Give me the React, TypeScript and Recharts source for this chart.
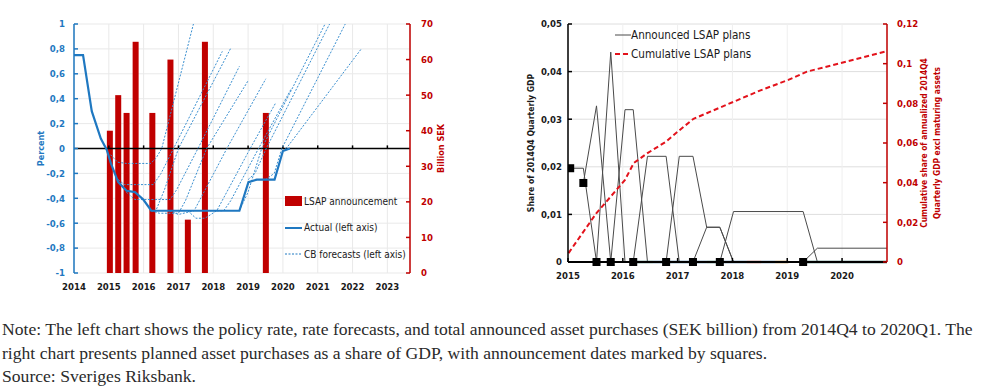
import React from 'react';
import { ComposedChart, Line, Bar, XAxis, YAxis, CartesianGrid, ReferenceLine, Legend } from 'recharts';

const FONT = '"Liberation Sans Narrow", "DejaVu Sans Condensed", Lato, sans-serif';
const BLUE = '#1f78c1';
const RED = '#c00000';
const CUM_RED = '#e3121b';
const PLAN_GRAY = '#4a4a4a';

// ---------- Left chart data ----------
const leftYearTicks = [2014, 2015, 2016, 2017, 2018, 2019, 2020, 2021, 2022, 2023];
const percentTicks = [-1, -0.8, -0.6, -0.4, -0.2, 0, 0.2, 0.4, 0.6, 0.8, 1];
const sekTicks = [0, 10, 20, 30, 40, 50, 60, 70];

const lsapDates = [2015.03, 2015.27, 2015.51, 2015.77, 2016.25, 2016.77, 2017.27, 2017.76, 2019.51];
const lsapBillionSek = [40, 50, 45, 65, 45, 60, 15, 65, 45];

const actualDates = [2014.0, 2014.26, 2014.51, 2014.77, 2014.94, 2015.06, 2015.27, 2015.51, 2015.75, 2015.99, 2016.22, 2018.75, 2019.01, 2019.25, 2019.76, 2020.0, 2020.2];
const actualRate = [0.75, 0.75, 0.3, 0.08, -0.01, -0.12, -0.27, -0.34, -0.35, -0.41, -0.5, -0.5, -0.27, -0.25, -0.25, -0.02, 0];

const cbForecastFeb15 = [[2015.05, -0.05], [2015.25, -0.11], [2015.5, -0.12], [2016.2, -0.12], [2016.35, -0.08], [2016.52, 0], [2017.43, 1]];
const cbForecastApr15 = [[2015.27, -0.25], [2015.45, -0.29], [2016.28, -0.29], [2016.5, -0.2], [2016.86, 0], [2018.26, 0.78]];
const cbForecastJul15 = [[2015.5, -0.35], [2015.75, -0.41], [2016.76, -0.41], [2016.95, -0.33], [2017.56, 0], [2018.75, 0.66]];
const cbForecastFeb16 = [[2016.2, -0.5], [2016.35, -0.5], [2016.6, -0.33], [2017.0, 0], [2018.51, 0.81]];
const cbForecastApr16 = [[2016.22, -0.5], [2016.45, -0.52], [2017.0, -0.52], [2017.2, -0.42], [2017.81, 0], [2018.99, 0.54]];
const cbForecastDec16 = [[2016.75, -0.5], [2017.0, -0.53], [2017.45, -0.5], [2018.39, 0], [2019.51, 0.56]];
const cbForecastApr17 = [[2017.27, -0.5], [2017.5, -0.56], [2017.76, -0.56], [2018.1, -0.5], [2019.06, 0], [2019.78, 0.36]];
const cbForecastDec17 = [[2017.9, -0.5], [2018.3, -0.5], [2018.5, -0.42], [2019.3, 0], [2020.24, 0.48]];
const cbForecastOct18 = [[2018.75, -0.5], [2019.0, -0.35], [2019.39, 0], [2021.21, 1]];
const cbForecastFeb19 = [[2019.0, -0.25], [2019.2, -0.2], [2019.52, 0], [2021.34, 1]];
const cbForecastJul19 = [[2019.5, -0.25], [2019.75, -0.2], [2019.97, 0], [2021.79, 1]];
const cbForecastDec19 = [[2020.0, -0.02], [2020.15, 0.02], [2022.25, 0.8]];

const cbForecasts = [
  cbForecastFeb15, cbForecastApr15, cbForecastJul15, cbForecastFeb16, cbForecastApr16, cbForecastDec16,
  cbForecastApr17, cbForecastDec17, cbForecastOct18, cbForecastFeb19, cbForecastJul19, cbForecastDec19,
];

// ---------- Right chart data ----------
const rightYearTicks = [2015, 2016, 2017, 2018, 2019, 2020];
const shareTicks = [0, 0.01, 0.02, 0.03, 0.04, 0.05];
const cumTicks = [0, 0.02, 0.04, 0.06, 0.08, 0.1, 0.12];

const planFeb15 = [[2015.04, 0.0197], [2015.28, 0.0197], [2015.52, 0]];
const planApr15 = [[2015.28, 0.0166], [2015.52, 0.0328], [2015.78, 0]];
const planJul15 = [[2015.52, 0], [2015.78, 0.0441], [2016.04, 0]];
const planOct15 = [[2015.78, 0], [2016.04, 0.032], [2016.19, 0.032], [2016.45, 0]];
const planApr16 = [[2016.19, 0], [2016.45, 0.0222], [2016.79, 0.0222], [2017.03, 0]];
const planDec16 = [[2016.79, 0], [2017.03, 0.0222], [2017.28, 0.0222], [2017.53, 0.0073], [2017.77, 0.0073], [2018.02, 0]];
const planApr17 = [[2017.28, 0], [2017.53, 0.0073], [2017.77, 0.0073], [2018.02, 0]];
const planDec17 = [[2017.77, 0], [2018.02, 0.0106], [2019.29, 0.0106], [2019.55, 0]];
const planApr19 = [[2019.29, 0], [2019.55, 0.0029], [2020.82, 0.0029]];
const plans = [planFeb15, planApr15, planJul15, planOct15, planApr16, planDec16, planApr17, planDec17, planApr19];

const cumDates = [2015.01, 2015.52, 2015.78, 2016.04, 2016.2, 2016.45, 2016.79, 2017.04, 2017.29, 2017.53, 2018.03, 2018.5, 2019.02, 2019.36, 2019.96, 2020.78];
const cumShare = [0.0045, 0.0247, 0.033, 0.0414, 0.0499, 0.0549, 0.0607, 0.0666, 0.0722, 0.075, 0.0809, 0.0864, 0.0918, 0.096, 0.1002, 0.106];

const announceDates = [2015.04, 2015.28, 2015.52, 2015.78, 2016.19, 2016.79, 2017.28, 2017.77, 2019.29];
const announceShare = [0.0197, 0.0166, 0, 0, 0, 0, 0, 0, 0];

const zeroSegStart = [2016.19, 2016.55, 2017.53, 2017.77, 2018.26, 2018.53, 2018.78, 2019.29];
const zeroSegEnd = [2016.55, 2017.53, 2017.77, 2018.26, 2018.53, 2018.78, 2019.02, 2020.82];
const zeroSegColor = ['#235e54', '#2e5f86', '#235e54', '#2e5f86', '#7a2a2a', '#3d6a92', '#9a6a1c', '#235e54'];

// ---------- helpers ----------
const toPts = (arr: number[][]) => arr.map(([x, v]) => ({ x, v }));
const zip = (xs: number[], vs: number[]) => xs.map((x, i) => ({ x, v: vs[i] }));
const comma = (v: number) => String(v).replace('.', ',');

const barData = lsapDates.map((x, i) => ({ x, sek: lsapBillionSek[i] }));
const actualData = zip(actualDates, actualRate);
const cumData = zip(cumDates, cumShare);
const announceData = zip(announceDates, announceShare);

const tickStyle = (fill: string) => ({ fill, fontSize: 9.5, fontWeight: 700, fontFamily: FONT });

const SquareDot = (props: any) => {
  const { cx, cy } = props;
  if (cx == null || cy == null) return null;
  return <rect x={cx - 4} y={cy - 4} width={8} height={8} fill="#000" />;
};

const BAR_W = 6;
const LsapBar = (props: any) => {
  const { x, y, width, height } = props;
  if (height == null || height <= 0) return null;
  const cx = x + width / 2;
  return <rect x={cx - BAR_W / 2} y={y} width={BAR_W} height={height} fill={RED} />;
};

const RotLabel = ({ text, fill, dxFrom, viewBox, size = 9 }: any) => {
  const cx = viewBox.x + dxFrom;
  const cy = viewBox.y + viewBox.height / 2;
  return (
    <text x={cx} y={cy} fill={fill} fontSize={size} fontWeight={700} fontFamily={FONT}
      textAnchor="middle" dominantBaseline="central" transform={`rotate(-90 ${cx} ${cy})`}>
      {text}
    </text>
  );
};

const leftLegendItems = [
  { label: 'LSAP announcement', kind: 'bar' },
  { label: 'Actual (left axis)', kind: 'solid' },
  { label: 'CB forecasts (left axis)', kind: 'dotted' },
];

const LeftLegend = () => (
  <div style={{ fontFamily: FONT, fontSize: 10, color: '#1a1a1a', whiteSpace: 'nowrap' }}>
    {leftLegendItems.map((it) => (
      <div key={it.label} style={{ display: 'flex', alignItems: 'center', height: 26.5 }}>
        <svg width={19} height={12} style={{ marginRight: 0 }}>
          {it.kind === 'bar' && <rect x={0} y={1} width={17} height={10} fill={RED} />}
          {it.kind === 'solid' && <line x1={0} x2={17} y1={6} y2={6} stroke={BLUE} strokeWidth={2} />}
          {it.kind === 'dotted' && <line x1={0} x2={17} y1={6} y2={6} stroke={BLUE} strokeWidth={1} strokeDasharray="2 1.5" />}
        </svg>
        <span>{it.label}</span>
      </div>
    ))}
  </div>
);

const rightLegendItems = [
  { label: 'Announced LSAP plans', color: PLAN_GRAY, dash: undefined, w: 1 },
  { label: 'Cumulative LSAP plans', color: CUM_RED, dash: '5 3', w: 2 },
];

const RightLegend = () => (
  <div style={{ fontFamily: FONT, fontSize: 11.6, color: '#1a1a1a', whiteSpace: 'nowrap' }}>
    {rightLegendItems.map((it) => (
      <div key={it.label} style={{ display: 'flex', alignItems: 'center', height: 19 }}>
        <svg width={16} height={8}>
          <line x1={0} x2={16} y1={4} y2={4} stroke={it.color} strokeWidth={it.w} strokeDasharray={it.dash} />
        </svg>
        <span>{it.label}</span>
      </div>
    ))}
  </div>
);

const LeftChart = () => (
  <ComposedChart width={450} height={300} data={barData} margin={{ top: 24, right: 0, bottom: 7, left: 34 }}>
    <CartesianGrid yAxisId="left" stroke="#e9e9e9" strokeWidth={1} />
    <XAxis type="number" dataKey="x" domain={[2014, 2023.65]} ticks={leftYearTicks} allowDataOverflow
      axisLine={false} tickLine={false} tickSize={0} tickMargin={10} height={20} interval={0}
      tick={tickStyle('#1a1a1a')} />
    <YAxis yAxisId="left" domain={[-1, 1]} ticks={percentTicks} allowDataOverflow width={40}
      tickFormatter={comma} tick={tickStyle(BLUE)} interval={0}
      axisLine={{ stroke: BLUE, strokeWidth: 1.5 }} tickLine={{ stroke: BLUE, strokeWidth: 1.5 }}
      tickSize={-4} tickMargin={13}
      label={{ content: (p: any) => <RotLabel {...p} text="Percent" fill={BLUE} dxFrom={7} /> }} />
    <YAxis yAxisId="right" orientation="right" domain={[0, 70]} ticks={sekTicks} width={40}
      tick={tickStyle(RED)} interval={0}
      axisLine={{ stroke: RED, strokeWidth: 1.5 }} tickLine={{ stroke: RED, strokeWidth: 1.5 }}
      tickSize={-4} tickMargin={15}
      label={{ content: (p: any) => <RotLabel {...p} text="Billion SEK" fill={RED} dxFrom={31} /> }} />
    <Bar yAxisId="right" dataKey="sek" fill={RED} shape={<LsapBar />} isAnimationActive={false} />
    <ReferenceLine yAxisId="left" y={0} stroke="#000" strokeWidth={1.5} />
    {leftYearTicks.slice(1).map((yr) => (
      <ReferenceLine key={yr} yAxisId="left" segment={[{ x: yr, y: 0 }, { x: yr, y: 0.025 }]} stroke="#000" strokeWidth={1.5} />
    ))}
    {cbForecasts.map((f, i) => (
      <Line key={i} yAxisId="left" data={toPts(f)} dataKey="v" stroke="#3a8fd0" strokeWidth={1}
        strokeDasharray="2 1.5" dot={false} isAnimationActive={false} />
    ))}
    <Line yAxisId="left" data={actualData} dataKey="v" stroke={BLUE} strokeWidth={2.2} dot={false} isAnimationActive={false} />
    <Legend layout="vertical" align="center" verticalAlign="middle" content={<LeftLegend />}
      wrapperStyle={{ left: 285, top: 188, width: 160, height: 80 }} />
  </ComposedChart>
);

const RightChart = () => (
  <ComposedChart width={524} height={300} margin={{ top: 24, right: 37, bottom: 18, left: 63 }}>
    <CartesianGrid yAxisId="left" vertical={false} stroke="#dedede" />
    <CartesianGrid yAxisId="left" horizontal={false} stroke="#efefef" />
    <XAxis type="number" dataKey="x" domain={[2015, 2020.82]} ticks={rightYearTicks} allowDataOverflow
      axisLine={{ stroke: '#000', strokeWidth: 2 }} tickLine={{ stroke: '#000', strokeWidth: 1.5 }}
      tickSize={-4} tickMargin={14} height={20} interval={0} tick={tickStyle('#1a1a1a')} />
    <YAxis yAxisId="left" domain={[0, 0.05]} ticks={shareTicks} width={45} interval={0}
      tickFormatter={comma} tick={tickStyle('#1a1a1a')}
      axisLine={{ stroke: '#000', strokeWidth: 1.5 }} tickLine={{ stroke: '#000', strokeWidth: 1.5 }}
      tickSize={-4} tickMargin={10}
      label={{ content: (p: any) => <RotLabel {...p} text="Share of 2014Q4 Quarterly GDP" fill="#1a1a1a" dxFrom={8} size={8.6} /> }} />
    <YAxis yAxisId="right" orientation="right" domain={[0, 0.12]} ticks={cumTicks} width={60} interval={0}
      tickFormatter={comma} tick={tickStyle(RED)}
      axisLine={{ stroke: RED, strokeWidth: 1.5 }} tickLine={{ stroke: RED, strokeWidth: 1.5 }}
      tickSize={-4} tickMargin={14}
      label={{
        content: (p: any) => (
          <g>
            <RotLabel {...p} text="Cumulative share of annualized 2014Q4" fill={RED} dxFrom={37} size={8.4} />
            <RotLabel {...p} text="Quarterly GDP excl maturing assets" fill={RED} dxFrom={50} size={8.4} />
          </g>
        ),
      }} />
    {plans.map((p, i) => (
      <Line key={i} yAxisId="left" data={toPts(p)} dataKey="v" stroke={PLAN_GRAY} strokeWidth={1}
        dot={false} isAnimationActive={false} />
    ))}
    {zeroSegStart.map((s, i) => (
      <Line key={'z' + i} yAxisId="left" data={[{ x: s, v: 0 }, { x: zeroSegEnd[i], v: 0 }]} dataKey="v"
        stroke={zeroSegColor[i]} strokeWidth={2.5} dot={false} isAnimationActive={false} />
    ))}
    <Line yAxisId="right" data={cumData} dataKey="v" stroke={CUM_RED} strokeWidth={2} strokeDasharray="5 3"
      dot={false} isAnimationActive={false} />
    <Line yAxisId="left" data={announceData} dataKey="v" stroke="none" dot={<SquareDot />} isAnimationActive={false} />
    <Legend layout="vertical" align="center" verticalAlign="middle" content={<RightLegend />}
      wrapperStyle={{ left: 155, top: 25, width: 170, height: 40 }} />
  </ComposedChart>
);

const noteLines = [
  'Note: The left chart shows the policy rate, rate forecasts, and total announced asset purchases (SEK billion) from 2014Q4 to 2020Q1. The',
  'right chart presents planned asset purchases as a share of GDP, with announcement dates marked by squares.',
  'Source: Sveriges Riksbank.',
];

export default function App() {
  return (
    <div style={{ position: 'absolute', left: 0, top: 0, width: 984, height: 392, background: '#fff', overflow: 'hidden' }}>
      <div style={{ position: 'absolute', left: 0, top: 0 }}>
        <LeftChart />
      </div>
      <div style={{ position: 'absolute', left: 460, top: 0 }}>
        <RightChart />
      </div>
      <div style={{ position: 'absolute', left: 2, top: 318, width: 982, fontFamily: '"Liberation Serif", serif', fontSize: 17.6, lineHeight: '23.5px', color: '#2a2a2a' }}>
        {noteLines.map((l) => (
          <div key={l} style={{ whiteSpace: 'nowrap' }}>{l}</div>
        ))}
      </div>
    </div>
  );
}
